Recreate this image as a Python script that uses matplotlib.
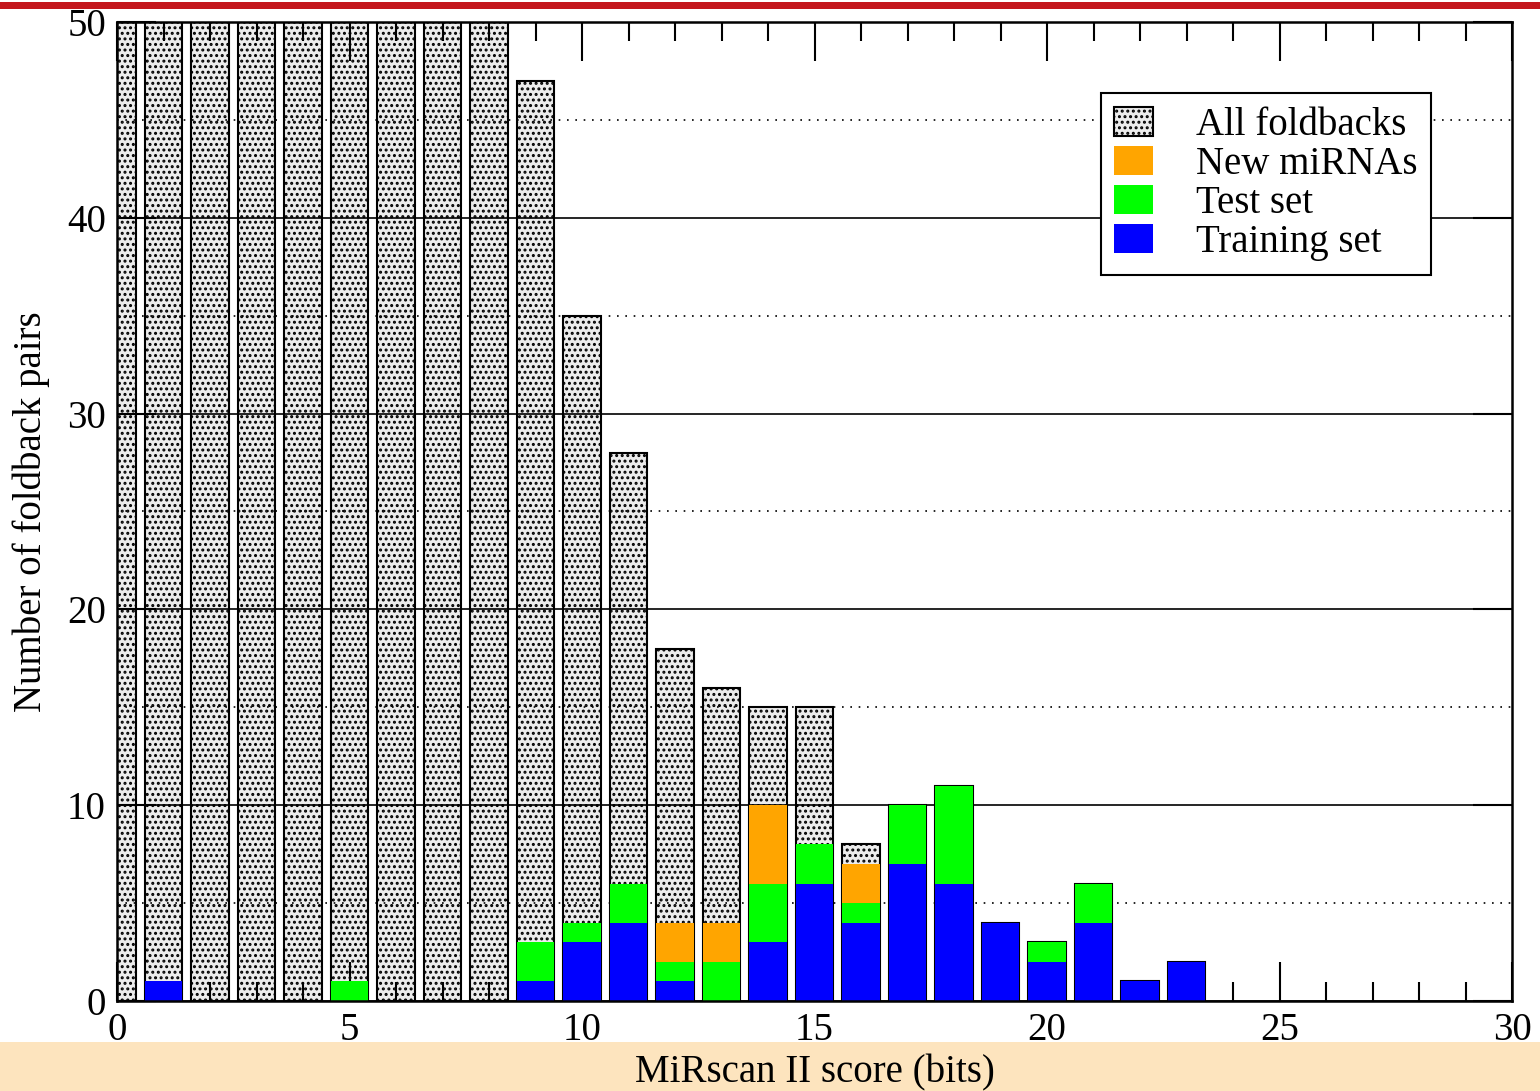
import matplotlib.pyplot as plt
import matplotlib.patches as mpatches
from matplotlib.ticker import MultipleLocator

plt.rcParams['font.family'] = ['Liberation Serif', 'DejaVu Serif']
plt.rcParams['hatch.linewidth'] = 1.4

# Score bins (bits)
scores = list(range(0, 24))
# All foldbacks (bins 0-8 run off the top of the chart)
all_foldbacks = [60, 60, 60, 60, 60, 60, 60, 60, 60, 47, 35, 28, 18, 16, 15, 15, 8, 10, 11, 4, 3, 6, 1, 2]
# Cumulative heights: new miRNAs + test + training
new_mirnas = [0, 0, 0, 0, 0, 0, 0, 0, 0, 0, 0, 0, 4, 4, 10, 0, 7, 0, 0, 0, 0, 0, 0, 0]
# test + training
test_set = [0, 0, 0, 0, 0, 1, 0, 0, 0, 3, 4, 6, 2, 2, 6, 8, 5, 10, 11, 0, 3, 6, 0, 0]
training_set = [0, 1, 0, 0, 0, 0, 0, 0, 0, 1, 3, 4, 1, 0, 3, 6, 4, 7, 6, 4, 2, 4, 1, 2]

fig = plt.figure(figsize=(15.4, 10.91), dpi=100)
ax = fig.add_axes([117 / 1540, 1 - 1001 / 1091, 1395 / 1540, 979 / 1091])

# background bands from the slide
fig.add_artist(mpatches.Rectangle((0, 0), 1, 49 / 1091, transform=fig.transFigure,
                                  facecolor='#fde4be', edgecolor='none', zorder=0))
fig.add_artist(mpatches.Rectangle((0, 1 - 9 / 1091), 1, 7 / 1091, transform=fig.transFigure,
                                  facecolor='#c4161c', edgecolor='none', zorder=0))

w = 0.8
ax.bar(scores, all_foldbacks, width=w, color='#ececec', edgecolor='black',
       hatch='...', linewidth=1.5, zorder=2, label='All foldbacks')
ax.bar(scores, new_mirnas, width=w, color='#ffa500', edgecolor='none', zorder=3, label='New miRNAs')
ax.bar(scores, test_set, width=w, color='#00ff00', edgecolor='none', zorder=4, label='Test set')
ax.bar(scores, training_set, width=w, color='#0000ff', edgecolor='none', zorder=5, label='Training set')

ax.set_xlim(0, 30)
ax.set_ylim(0, 50)
ax.xaxis.set_major_locator(MultipleLocator(5))
ax.xaxis.set_minor_locator(MultipleLocator(1))
ax.yaxis.set_major_locator(MultipleLocator(10))
ax.yaxis.set_minor_locator(MultipleLocator(5))

ax.set_axisbelow(False)
ax.grid(which='major', axis='y', color='black', linewidth=1.2, linestyle='-', zorder=1)
ax.grid(which='minor', axis='y', color='black', linewidth=1.2, linestyle=(0, (1, 4)), zorder=1)

ax.tick_params(which='major', direction='in', length=28, width=1.5, top=True, right=True,
               labelsize=28, pad=8)
ax.tick_params(which='minor', direction='in', length=14, width=1.5, top=True, right=False)
ax.tick_params(axis='y', which='minor', length=0)
for spine in ax.spines.values():
    spine.set_linewidth(1.8)
    spine.set_zorder(10)

ax.set_xlabel('MiRscan II score (bits)', fontsize=28, labelpad=4)
ax.set_ylabel('Number of foldback pairs', fontsize=28, labelpad=12)

leg = ax.legend(loc='upper right', bbox_to_anchor=(0.942, 0.927), fontsize=28,
                frameon=True, fancybox=False, edgecolor='black', framealpha=1,
                handlelength=1.0, handleheight=0.75, handletextpad=1.1,
                labelspacing=0.05, borderpad=0.35, borderaxespad=0)
leg.get_frame().set_linewidth(1.5)
leg.set_zorder(20)

fig.savefig('out.png', dpi=100)
